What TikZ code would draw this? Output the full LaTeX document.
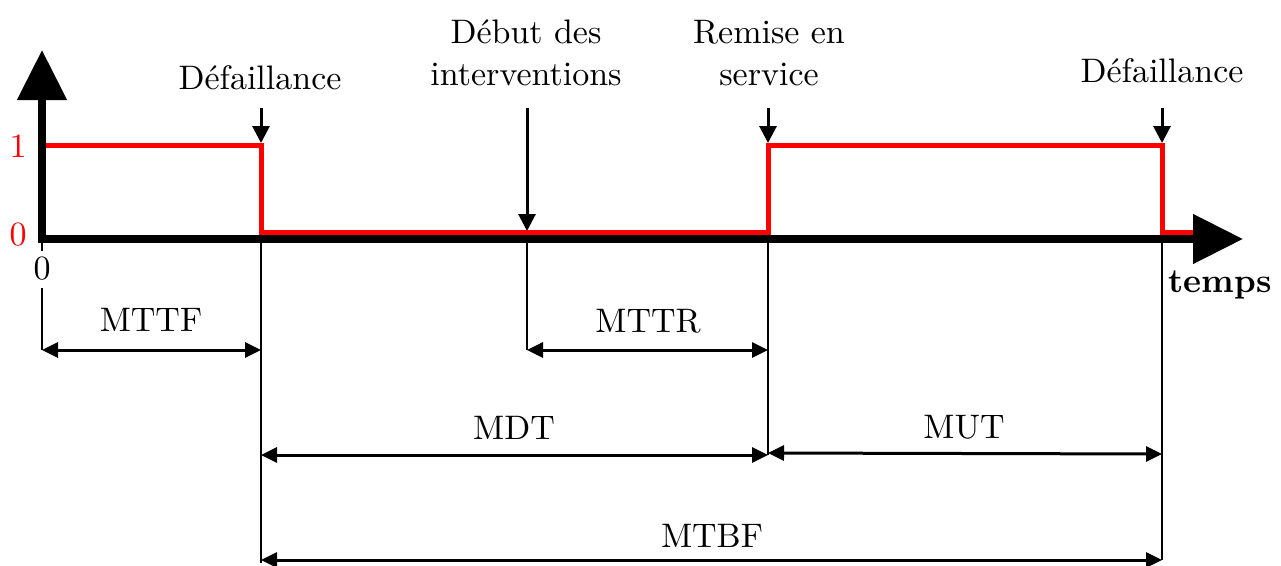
\documentclass[tikz,border=0pt]{standalone}
\usepackage{fontspec}
\setmainfont{lmroman10-regular.otf}[BoldFont=lmroman10-bold.otf]
\usetikzlibrary{arrows.meta}
\tikzset{
  txt/.style={inner sep=0pt, anchor=base, font=\fontsize{34}{40}\selectfont},
  axisline/.style={line width=8pt, -{Triangle[width=48pt,length=50pt]}},
  signal/.style={red, line width=5pt, line join=miter},
  guide/.style={line width=1.3pt},
  event/.style={line width=3pt, -{Triangle[width=17pt,length=17pt]}},
  dim/.style={line width=3pt, {Triangle[width=15pt,length=16pt]}-{Triangle[width=15pt,length=16pt]}}
}
\begin{document}
\begin{tikzpicture}[x=1pt,y=-1pt]
\useasboundingbox (0,0) rectangle (1281,565);

% time instants on the axis
\coordinate (t0) at (42,239);
\coordinate (f1) at (261,239);
\coordinate (di) at (527,239);
\coordinate (rs) at (768,239);
\coordinate (f2) at (1162,239);

% state signal
\draw[signal] (42,145) -- (261,145) -- (261,232) -- (768,232) -- (768,145)
  -- (1162,145) -- (1162,232) -- (1200,232);

% axes
\coordinate (xend) at (1243,239);
\coordinate (yend) at (42,50);
\draw[axisline] (38,239) -- (xend);
\draw[axisline] (42,243) -- (yend);

% level labels
\node[txt, red] (one) at (18,157) {1};
\node[txt, red] (zero) at (18,245) {0};
\node[txt] (orig) at (42,279) {0};
\node[txt, font=\fontsize{34}{40}\selectfont\bfseries] (temps) at (1220,292) {temps};

% vertical guide lines
\draw[guide] (42,243) -- (42,251);
\coordinate (g0) at (42,288);
\coordinate (g0b) at (42,350);
\draw[guide] (g0) -- (g0b);
\draw[guide] (f1) -- (261,563);
\draw[guide] (di) -- (527,350);
\draw[guide] (rs) -- (768,455);
\draw[guide] (f2) -- (1162,560);

% event labels and arrows
\node[txt] (def1) at (260,89) {Défaillance};
\node[txt] (deb1) at (526,43) {Début des};
\node[txt] (deb2) at (526,85) {interventions};
\node[txt] (rem1) at (769,43) {Remise en};
\node[txt] (rem2) at (769,85) {service};
\node[txt] (def2) at (1162,82) {Défaillance};

\coordinate (a1s) at (261,108);
\coordinate (a1e) at (261,143);
\coordinate (a2s) at (527,108);
\coordinate (a2e) at (527,231);
\coordinate (a3s) at (768,108);
\coordinate (a3e) at (768,143);
\coordinate (a4s) at (1162,108);
\coordinate (a4e) at (1162,143);
\draw[event] (a1s) -- (a1e);
\draw[event] (a2s) -- (a2e);
\draw[event] (a3s) -- (a3e);
\draw[event] (a4s) -- (a4e);

% durations
\coordinate (mttfA) at (42,350);
\coordinate (mttfB) at (261,350);
\draw[dim] (mttfA) -- (mttfB);
\node[txt] (mttf) at (151,331) {MTTF};

\coordinate (mttrA) at (527,350);
\coordinate (mttrB) at (768,350);
\draw[dim] (mttrA) -- (mttrB);
\node[txt] (mttr) at (648,332) {MTTR};

\coordinate (mdtA) at (261,455);
\coordinate (mdtB) at (768,455);
\draw[dim] (mdtA) -- (mdtB);
\node[txt] (mdt) at (514,439) {MDT};

\coordinate (mutA) at (768,453);
\coordinate (mutB) at (1162,454);
\draw[dim] (mutA) -- (mutB);
\node[txt] (mut) at (964,438) {MUT};

\coordinate (mtbfA) at (261,560);
\coordinate (mtbfB) at (1162,560);
\draw[dim] (mtbfA) -- (mtbfB);
\node[txt] (mtbf) at (712,547) {MTBF};
\end{tikzpicture}
\end{document}
